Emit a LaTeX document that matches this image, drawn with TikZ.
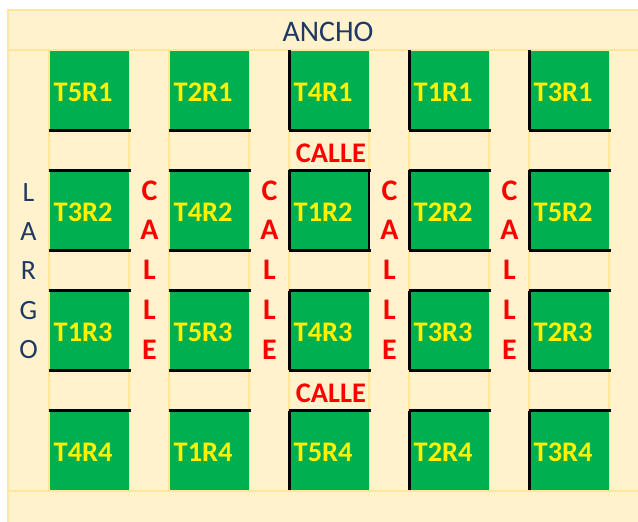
\documentclass[tikz,border=0pt]{standalone}
\usepackage{fontspec}
\setmainfont{Carlito}
\usetikzlibrary{positioning}
\usepackage{xcolor}
\definecolor{Beige}{HTML}{FFF2CC}
\definecolor{Rejilla}{HTML}{FFE699}
\definecolor{Parcela}{HTML}{00B050}
\definecolor{Navy}{HTML}{1F3864}

\tikzset{
  parcela/.style={fill=Parcela,anchor=north west,inner xsep=4bp,inner ysep=0pt,
    text width=71bp,text height=23bp,text depth=0pt,minimum height=79.5bp,
    align=left,text=yellow,font=\fontsize{28.5}{30}\selectfont\bfseries},
  borde/.style={draw=black,line width=2.4pt},
  rejilla/.style={draw=Rejilla,line width=1.4pt},
  calle/.style={text=red,inner sep=0pt,font=\fontsize{28.5}{30}\selectfont\bfseries},
  callev/.style={text=red,inner sep=0pt,align=center,font=\fontsize{30}{40}\selectfont\bfseries},
}

\begin{document}
\begin{tikzpicture}[x=1bp,y=-1bp]
    \useasboundingbox (0,0) rectangle (638,522);
    % fondo y rejilla
    \fill[Beige] (8,10) rectangle (638,522);
    \draw[rejilla] (8,522) -- (8,10) -- (638,10);
    \draw[rejilla] (8,50) -- (638,50);
    \draw[rejilla] (8,491) -- (638,491);
    \foreach \x in {49,129,169,249,289,369,409,489,529,609}
      \draw[rejilla] (\x,50) -- (\x,491);
    \foreach \y in {130,170,250,290,370,410}{
      \foreach \i in {0,...,4}
        \draw[rejilla] (49+\i*120,\y) -- (129+\i*120,\y);
    }
    % parcelas
    \foreach \fila/\lista in {1/{5,2,4,1,3},2/{3,4,1,2,5},3/{1,5,4,3,2},4/{4,1,5,2,3}}{
      \foreach \tr [count=\col] in \lista {
        \pgfmathsetmacro{\x}{49.5+(\col-1)*120}
        \pgfmathsetmacro{\y}{50.5+(\fila-1)*120}
        \node[parcela] (T\tr R\fila) at (\x,\y) {T\tr R\fila};
      }
    }
    % bordes negros
    \foreach \fila/\lista in {1/{5,2,4,1,3},2/{3,4,1,2,5},3/{1,5,4,3,2},4/{4,1,5,2,3}}{
      \foreach \tr [count=\col] in \lista {
        \ifnum\fila<4
          \draw[borde] ([xshift=-1bp]T\tr R\fila.south west) -- ([xshift=2bp]T\tr R\fila.south east);
        \fi
        \ifnum\fila>1
          \draw[borde] ([xshift=-1bp]T\tr R\fila.north west) -- ([xshift=2bp]T\tr R\fila.north east);
        \fi
        \ifnum\col>2
          \draw[borde] (T\tr R\fila.north west) -- (T\tr R\fila.south west);
        \fi
      }
    }
    \draw[borde] (T1R2.north east) -- (T1R2.south east);
    % textos
    \node[text=Navy,inner sep=0pt,font=\fontsize{30}{30}\selectfont] (ancho) at (328,32) {ANCHO};
    \node[text=Navy,inner sep=0pt,align=center,font=\fontsize{28}{39.5}\selectfont] (largo) at (28.5,271) {L\\A\\R\\G\\O};
    \foreach \i in {1,...,4}
      \node[callev] (callev\i) at (29.5+\i*120,270) {C\\A\\L\\L\\E};
    \node[calle] (calle1) at (331,153) {CALLE};
    \node[calle] (calle2) at (331,393) {CALLE};
  \end{tikzpicture}
\end{document}
